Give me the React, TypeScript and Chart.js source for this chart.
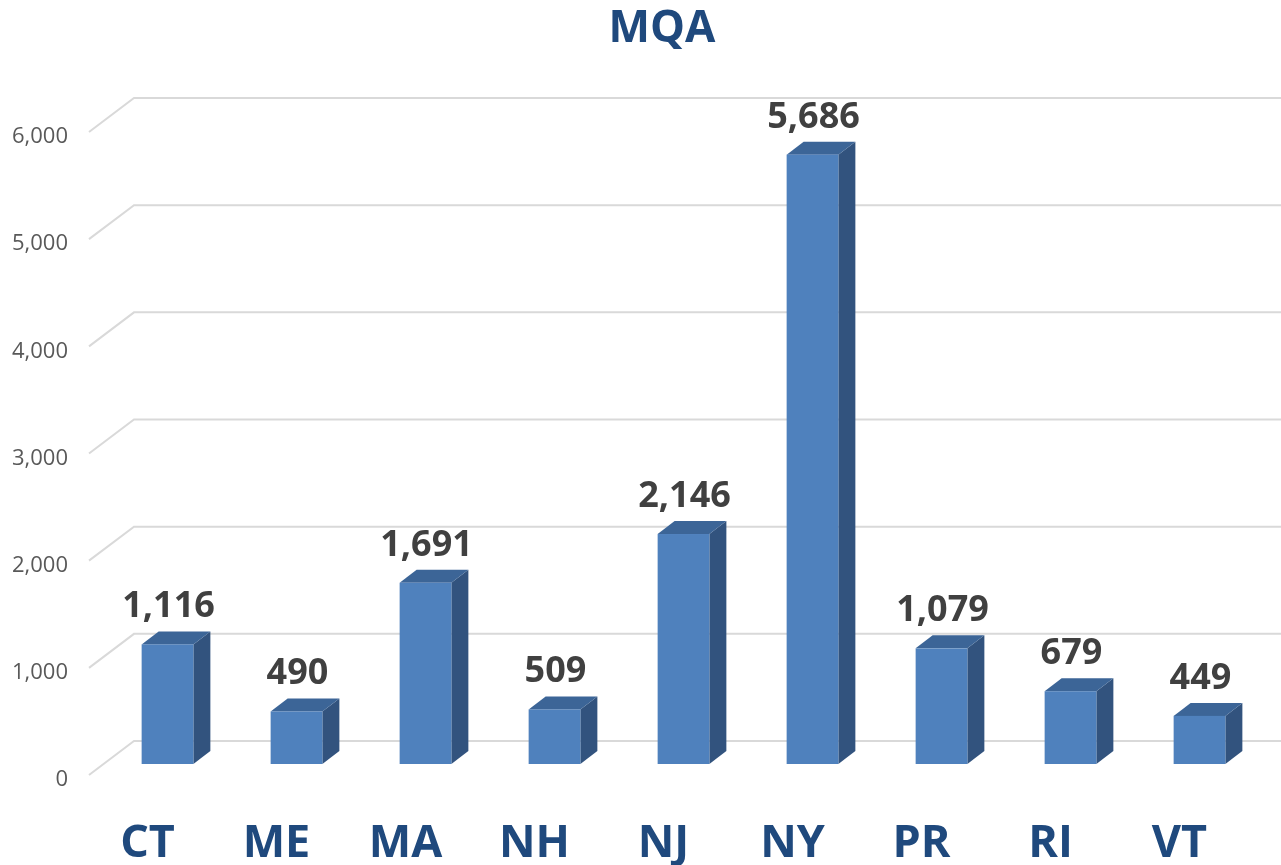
import React, { useEffect, useRef } from 'react';
import { Chart, registerables } from 'chart.js';

Chart.register(...registerables);

const chartTitle = 'MQA';
const categories = ['CT', 'ME', 'MA', 'NH', 'NJ', 'NY', 'PR', 'RI', 'VT'];
const values = [1116, 490, 1691, 509, 2146, 5686, 1079, 679, 449];
const yMin = 0;
const yMax = 6000;
const yStep = 1000;

const FRONT = '#4F81BD';
const TOP = '#3C6597';
const SIDE = '#32537E';
const GRID = '#D9D9D9';
const BLUE_TEXT = '#1F497D';
const FONT = '"Open Sans", Lato, sans-serif';

const WALL_DX = 45;
const WALL_DY = 34;
const BAR_DX = 14;
const BAR_DY = 11;
const DEPTH_X = 17;
const DEPTH_Y = 13;

const threeD = {
  id: 'threeD',
  beforeDatasetsDraw(chart: any) {
    const { ctx, chartArea, scales } = chart;
    const y = scales.y;
    ctx.save();
    ctx.strokeStyle = GRID;
    ctx.lineWidth = 2;
    y.ticks.forEach((t: any) => {
      const py = y.getPixelForValue(t.value);
      ctx.beginPath();
      ctx.moveTo(chartArea.left, py);
      ctx.lineTo(chartArea.left + WALL_DX, py - WALL_DY);
      ctx.lineTo(chart.width, py - WALL_DY);
      ctx.stroke();
    });
    ctx.restore();
  },
  afterDatasetsDraw(chart: any) {
    const { ctx } = chart;
    const meta = chart.getDatasetMeta(0);
    const data = chart.data.datasets[0].data as number[];
    ctx.save();
    meta.data.forEach((bar: any, i: number) => {
      const { x, y, base, width } = bar.getProps(['x', 'y', 'base', 'width'], true);
      const l = x - width / 2 + BAR_DX;
      const r = l + width;
      const t = y - BAR_DY;
      const b = base - BAR_DY;
      ctx.fillStyle = SIDE;
      ctx.beginPath();
      ctx.moveTo(r, t);
      ctx.lineTo(r + DEPTH_X, t - DEPTH_Y);
      ctx.lineTo(r + DEPTH_X, b - DEPTH_Y);
      ctx.lineTo(r, b);
      ctx.closePath();
      ctx.fill();
      ctx.fillStyle = TOP;
      ctx.beginPath();
      ctx.moveTo(l, t);
      ctx.lineTo(l + DEPTH_X, t - DEPTH_Y);
      ctx.lineTo(r + DEPTH_X, t - DEPTH_Y);
      ctx.lineTo(r, t);
      ctx.closePath();
      ctx.fill();
      ctx.fillStyle = FRONT;
      ctx.fillRect(l, t, width, b - t);
      ctx.fillStyle = '#404040';
      ctx.font = 'bold 36px ' + FONT;
      ctx.textAlign = 'center';
      ctx.textBaseline = 'alphabetic';
      ctx.fillText(data[i].toLocaleString('en-US'), (l + r) / 2 + 1, t - 27);
    });
    ctx.restore();
  },
  afterDraw(chart: any) {
    const { ctx } = chart;
    ctx.save();
    ctx.fillStyle = BLUE_TEXT;
    ctx.font = 'bold 44px ' + FONT;
    ctx.textAlign = 'center';
    ctx.textBaseline = 'alphabetic';
    ctx.fillText(chartTitle, 662, 42);
    ctx.restore();
  },
};

export default function App() {
  const ref = useRef<HTMLCanvasElement>(null);
  useEffect(() => {
    if (!ref.current) return;
    const chart = new Chart(ref.current, {
      type: 'bar',
      data: {
        labels: categories,
        datasets: [
          {
            label: chartTitle,
            data: values,
            backgroundColor: 'rgba(0,0,0,0)',
            borderWidth: 0,
            barPercentage: 0.401,
            categoryPercentage: 1,
          },
        ],
      },
      options: {
        responsive: false,
        animation: false,
        devicePixelRatio: 1,
        layout: { padding: { top: 132, right: 31, left: 0, bottom: 0 } },
        plugins: {
          legend: { display: false },
          title: { display: false },
          tooltip: { enabled: false },
        },
        scales: {
          x: {
            grid: { display: false },
            border: { display: false },
            ticks: {
              color: BLUE_TEXT,
              font: { family: FONT, size: 45, weight: 'bold' },
              labelOffset: -6,
              padding: 34,
              maxRotation: 0,
              autoSkip: false,
            },
            afterFit: (scale: any) => {
              scale.height = 90;
            },
          },
          y: {
            min: yMin,
            max: yMax,
            grid: { display: false, drawTicks: false },
            border: { display: false },
            ticks: {
              stepSize: yStep,
              color: '#595959',
              font: { family: FONT, size: 22 },
              padding: 21,
              labelOffset: 5,
              callback: (v: any) => Number(v).toLocaleString('en-US'),
            },
            afterFit: (scale: any) => {
              scale.width = 89;
            },
          },
        },
      },
      plugins: [threeD],
    });
    return () => chart.destroy();
  }, []);
  return (
    <div style={{ position: 'fixed', left: 0, top: 0, width: 1281, height: 865, background: '#fff' }}>
      <canvas ref={ref} width={1281} height={865} />
    </div>
  );
}
